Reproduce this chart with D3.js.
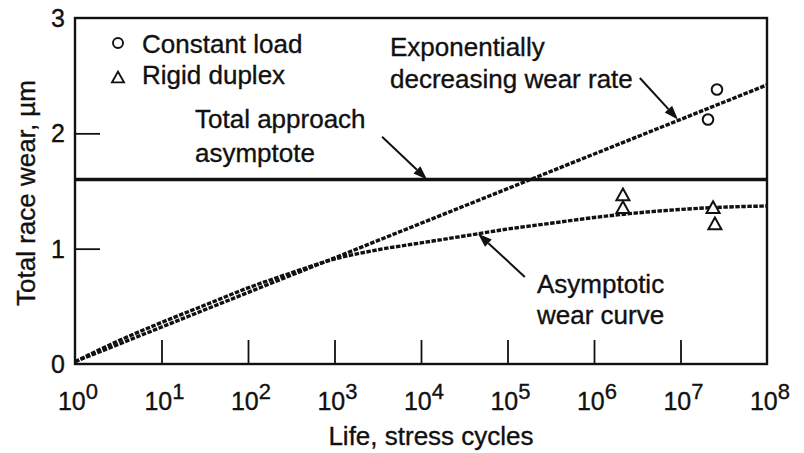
<!DOCTYPE html>
<html><head><meta charset="utf-8">
<script src="https://cdn.jsdelivr.net/npm/d3@7"></script>
<style>
html,body{margin:0;padding:0;background:#fff;}
svg text{font-family:"Liberation Sans",Arial,Helvetica,sans-serif;fill:#111;stroke:#111;stroke-width:0.35px;}
</style></head>
<body><svg id="c" width="804" height="453"></svg>
<script>
// ---- data ----
const xTickExponents = [0,1,2,3,4,5,6,7,8];
const yTickValues = [0,1,2,3];
const expLogN = [0, 8];              // exponentially decreasing wear rate (straight on log axis)
const expWear = [0.02, 2.42];
const asymLogN = [0,0.5,1,1.5,2,2.5,3,3.5,4,4.5,5,5.5,6,6.5,7,7.5,8];
const asymWear = [0.02,0.20,0.36,0.51,0.66,0.79,0.91,0.99,1.05,1.11,1.17,1.22,1.27,1.31,1.34,1.36,1.37];
const asymptoteWear = 1.60;          // total approach asymptote
const constLoadN = [2.08e7, 2.64e7];
const constLoadWear = [2.12, 2.38];
const rigidN = [2.16e6, 2.16e6, 2.38e7, 2.5e7];
const rigidWear = [1.47, 1.36, 1.36, 1.22];

const svg = d3.select("#c");
const x = d3.scaleLog().domain([1,1e8]).range([75,767]);
const y = d3.scaleLinear().domain([0,3]).range([364,18]);

// inner ticks
svg.append("g").attr("transform","translate(0,364)")
  .call(d3.axisBottom(x).tickValues(xTickExponents.slice(1,-1).map(e=>Math.pow(10,e))).tickSize(-24).tickFormat(""))
  .call(g=>{g.select(".domain").remove(); g.selectAll("line").attr("stroke","#111").attr("stroke-width",1.8);});
svg.append("g").attr("transform","translate(75,0)")
  .call(d3.axisLeft(y).tickValues(yTickValues.slice(1,-1)).tickSize(-25).tickFormat(""))
  .call(g=>{g.select(".domain").remove(); g.selectAll("line").attr("stroke","#111").attr("stroke-width",1.8);});

// frame
svg.append("rect").attr("x",x(1)).attr("y",y(3)).attr("width",x(1e8)-x(1)).attr("height",y(0)-y(3))
  .attr("fill","none").attr("stroke","#111").attr("stroke-width",2.4);

// x tick labels 10^n
xTickExponents.forEach(e=>{
  const t = svg.append("text").attr("x",x(Math.pow(10,e))+3).attr("y",410).attr("text-anchor","middle").attr("font-size",25);
  t.append("tspan").text("10");
  t.append("tspan").attr("dy",-11).attr("font-size",22).text(e);
});
// y tick labels
yTickValues.forEach(v=>{
  svg.append("text").attr("x",65).attr("y",y(v)).attr("dy","0.36em").attr("text-anchor","end").attr("font-size",25).text(v);
});
// axis titles
svg.append("text").attr("x",431).attr("y",445).attr("text-anchor","middle").attr("font-size",26).text("Life, stress cycles");
svg.append("text").attr("transform","translate(35,193) rotate(-90)").attr("text-anchor","middle").attr("font-size",26).text("Total race wear, \u00b5m");

// curves
const line = d3.line().x(d=>x(Math.pow(10,d[0]))).y(d=>y(d[1])).curve(d3.curveMonotoneX);
svg.append("path").datum(expLogN.map((l,i)=>[l,expWear[i]])).attr("d",line)
  .attr("fill","none").attr("stroke","#111").attr("stroke-width",3.4).attr("stroke-dasharray","4.5,1.5");
svg.append("path").datum(asymLogN.map((l,i)=>[l,asymWear[i]])).attr("d",line)
  .attr("fill","none").attr("stroke","#111").attr("stroke-width",3.4).attr("stroke-dasharray","4.5,1.5");
svg.append("line").attr("x1",x(1)).attr("x2",x(1e8)).attr("y1",y(asymptoteWear)).attr("y2",y(asymptoteWear))
  .attr("stroke","#111").attr("stroke-width",3.4);

// markers
function tri(cx,cy,s){const h=s*0.9;return `M${cx},${cy-h/2}L${cx+s/2},${cy+h/2}L${cx-s/2},${cy+h/2}Z`;}
svg.selectAll(".cl").data(constLoadN.map((n,i)=>[n,constLoadWear[i]])).join("circle")
  .attr("cx",d=>x(d[0])).attr("cy",d=>y(d[1])).attr("r",5.3)
  .attr("fill","none").attr("stroke","#111").attr("stroke-width",2);
svg.selectAll(".rd").data(rigidN.map((n,i)=>[n,rigidWear[i]])).join("path")
  .attr("d",d=>tri(x(d[0]),y(d[1]),13))
  .attr("fill","#fff").attr("stroke","#111").attr("stroke-width",2);

// legend
svg.append("circle").attr("cx",118).attr("cy",43).attr("r",5).attr("fill","none").attr("stroke","#111").attr("stroke-width",1.9);
svg.append("text").attr("x",142).attr("y",53).attr("font-size",26).text("Constant load");
svg.append("path").attr("d",tri(118,77,12)).attr("fill","none").attr("stroke","#111").attr("stroke-width",1.9);
svg.append("text").attr("x",142).attr("y",84).attr("font-size",26).text("Rigid duplex");

// annotations
function label(lines, lx, by, lh){
  lines.forEach((s,i)=>svg.append("text").attr("x",lx).attr("y",by+i*lh).attr("font-size",26).text(s));
}
label(["Total approach","asymptote"], 195, 128, 34);
label(["Exponentially","decreasing wear rate"], 390, 56, 32);
label(["Asymptotic","wear curve"], 537, 293, 31);

function arrow(x1,y1,x2,y2){
  const ang = Math.atan2(y2-y1,x2-x1), L=14, W=5;
  const bx = x2-L*Math.cos(ang), by = y2-L*Math.sin(ang);
  svg.append("line").attr("x1",x1).attr("y1",y1).attr("x2",bx).attr("y2",by).attr("stroke","#111").attr("stroke-width",2);
  svg.append("path").attr("d",`M${x2},${y2}L${bx+W*Math.sin(ang)},${by-W*Math.cos(ang)}L${bx-W*Math.sin(ang)},${by+W*Math.cos(ang)}Z`).attr("fill","#111");
}
arrow(x(Math.pow(10,3.55)), y(1.97), x(Math.pow(10,4.07)), y(asymptoteWear));
arrow(x(Math.pow(10,6.53)), y(2.48), x(Math.pow(10,6.97)), y(2.12));
arrow(x(Math.pow(10,5.20)), y(0.755), x(Math.pow(10,4.66)), y(1.13));
</script></body></html>
